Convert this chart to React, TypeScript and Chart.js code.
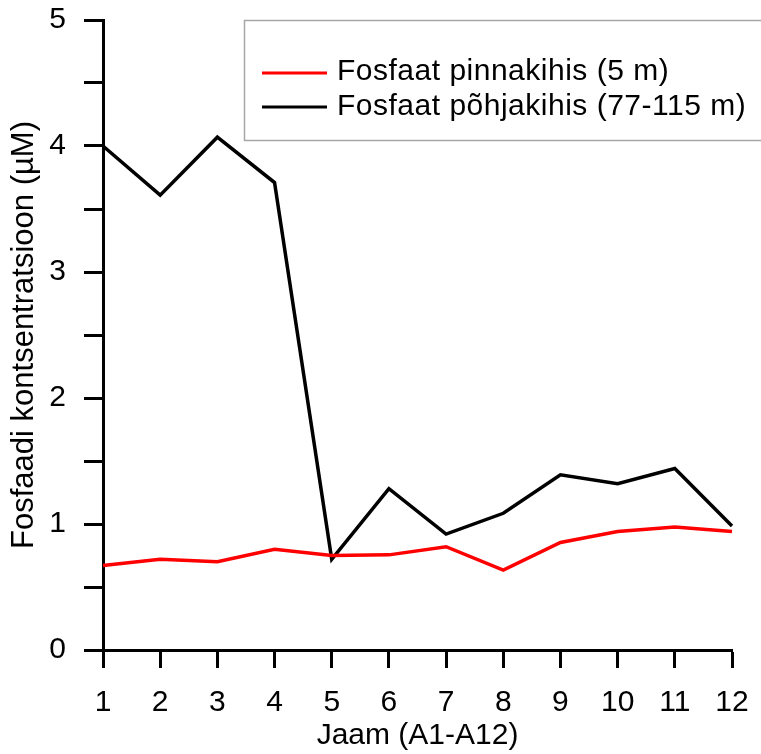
import React, { useEffect, useRef } from "react";
import { Chart, registerables } from "chart.js";

Chart.register(...registerables);

// Stations A1–A12
const stations = ["1", "2", "3", "4", "5", "6", "7", "8", "9", "10", "11", "12"];

// Phosphate, surface layer (5 m), µM
const surfacePhosphate = [0.67, 0.72, 0.7, 0.8, 0.75, 0.755, 0.82, 0.634, 0.853, 0.94, 0.977, 0.94];

// Phosphate, bottom layer (77–115 m), µM
const bottomPhosphate = [4.0, 3.61, 4.07, 3.71, 0.72, 1.28, 0.92, 1.085, 1.39, 1.32, 1.44, 0.985];

const seriesLabels = ["Fosfaat pinnakihis (5 m)", "Fosfaat põhjakihis (77-115 m)"];
const seriesColors = ["#ff0000", "#000000"];

const xTitle = "Jaam (A1-A12)";
const yTitle = "Fosfaadi kontsentratsioon (µM)";

const FONT = "'Liberation Sans', Arial, Helvetica, sans-serif";
const LABEL_SIZE = 30;

// Framed legend in the upper right corner of the plot
const boxedLegend = {
  id: "boxedLegend",
  afterDraw(chart: any) {
    const ctx = chart.ctx;
    ctx.save();
    const left = 244.5;
    const top = 20.5;
    ctx.fillStyle = "#ffffff";
    ctx.fillRect(left, top, 530, 120);
    ctx.strokeStyle = "#a6a6a6";
    ctx.lineWidth = 1.5;
    ctx.strokeRect(left, top, 530, 120);

    const rows = [73, 107];
    const baselines = [80, 115];
    chart.data.datasets.forEach((ds: any, i: number) => {
      ctx.beginPath();
      ctx.strokeStyle = ds.borderColor;
      ctx.lineWidth = 3;
      ctx.moveTo(262, rows[i]);
      ctx.lineTo(327, rows[i]);
      ctx.stroke();
      ctx.fillStyle = "#000000";
      ctx.font = `${LABEL_SIZE}px ${FONT}`;
      if ("letterSpacing" in ctx) ctx.letterSpacing = "0.5px";
      ctx.textAlign = "left";
      ctx.textBaseline = "alphabetic";
      ctx.fillText(ds.label, 337, baselines[i]);
    });
    ctx.restore();
  },
};

// Keep the plot frame exactly where the layout padding puts it
function noAutoPadding(scale: any) {
  scale.paddingTop = 0;
  scale.paddingBottom = 0;
  scale.paddingLeft = 0;
  scale.paddingRight = 0;
}

export default function App() {
  const canvasRef = useRef<HTMLCanvasElement | null>(null);

  useEffect(() => {
    const canvas = canvasRef.current;
    if (!canvas) return;
    Chart.defaults.font.family = FONT;
    Chart.defaults.color = "#000000";

    const chart = new Chart(canvas, {
      type: "line",
      data: {
        labels: stations,
        datasets: [
          {
            label: seriesLabels[0],
            data: surfacePhosphate,
            borderColor: seriesColors[0],
            backgroundColor: seriesColors[0],
            borderWidth: 3.5,
            pointRadius: 0,
            tension: 0,
          },
          {
            label: seriesLabels[1],
            data: bottomPhosphate,
            borderColor: seriesColors[1],
            backgroundColor: seriesColors[1],
            borderWidth: 3.5,
            pointRadius: 0,
            tension: 0,
          },
        ],
      },
      options: {
        responsive: false,
        animation: false,
        devicePixelRatio: 1,
        layout: { padding: { top: 20, right: 29, left: 0, bottom: 0 } },
        plugins: {
          legend: { display: false },
          tooltip: { enabled: false },
        },
        scales: {
          x: {
            type: "category",
            offset: false,
            grid: {
              display: true,
              drawOnChartArea: false,
              drawTicks: true,
              tickLength: 18,
              tickWidth: 3,
              tickColor: "#000000",
              offset: false,
            },
            border: { display: true, color: "#000000", width: 3 },
            ticks: {
              font: { size: LABEL_SIZE },
              color: "#000000",
              padding: 17,
              maxRotation: 0,
              autoSkip: false,
            },
            title: {
              display: true,
              text: xTitle,
              font: { size: LABEL_SIZE },
              color: "#000000",
              padding: { top: 0, bottom: 0 },
            },
            afterFit(scale: any) {
              scale.height = 104;
              noAutoPadding(scale);
            },
          },
          y: {
            type: "linear",
            min: 0,
            max: 5,
            grid: {
              display: true,
              drawOnChartArea: false,
              drawTicks: true,
              tickLength: 19,
              tickWidth: 3,
              tickColor: "#000000",
            },
            border: { display: true, color: "#000000", width: 3 },
            ticks: {
              stepSize: 0.5,
              font: { size: LABEL_SIZE },
              color: "#000000",
              padding: 18,
              callback: (v: any) => (Number(v) % 1 === 0 ? String(v) : ""),
            },
            title: {
              display: true,
              text: yTitle,
              font: { size: 31 },
              color: "#000000",
              padding: { top: 6, bottom: 0 },
            },
            afterFit(scale: any) {
              scale.width = 103;
              noAutoPadding(scale);
            },
          },
        },
      },
      plugins: [boxedLegend],
    });

    return () => chart.destroy();
  }, []);

  return (
    <canvas
      ref={canvasRef}
      width={761}
      height={754}
      style={{ position: "absolute", left: 0, top: 0, display: "block", background: "#ffffff" }}
    />
  );
}
